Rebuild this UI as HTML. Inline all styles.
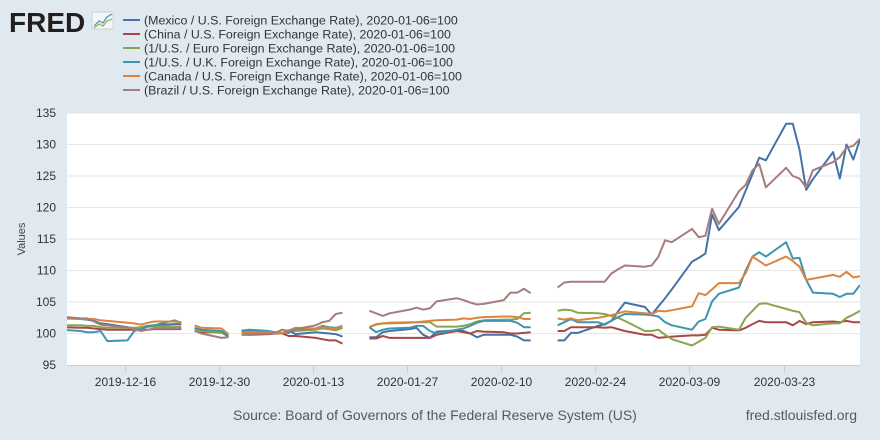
<!DOCTYPE html>
<html><head><meta charset="utf-8">
<style>
body{margin:0;background:#e1e9f0;}
svg{display:block;font-family:"Liberation Sans",Arial,sans-serif;}
</style></head>
<body>
<svg id="chart" width="880" height="440" viewBox="0 0 880 440">
<rect x="0" y="0" width="880" height="440" fill="#e1e9f0"/>
<g>
<text x="9" y="32" font-size="28" font-weight="bold" fill="#231f20" letter-spacing="0">FRED</text>
<rect x="92" y="12" width="21" height="17" fill="#f4f6f8" stroke="#c9d3dc"/>
<polyline points="94,26 99,21 103,23 107,17 112,14" fill="none" stroke="#4f8fbf" stroke-width="1.2"/>
<polyline points="94,28 99,24 103,26 107,21 112,19" fill="none" stroke="#8ab04a" stroke-width="1.2"/>
</g>
<g id="legend"></g>
<rect x="67" y="113" width="793" height="252" fill="#ffffff"/>
<g id="grid"></g>
<g id="yaxis"></g>
<g id="xaxis"></g>
<text x="25" y="239" font-size="11" fill="#444" transform="rotate(-90 25 239)" text-anchor="middle">Values</text>
<defs><clipPath id="clip"><rect x="67" y="113" width="793" height="252"/></clipPath></defs>
<g id="series" clip-path="url(#clip)"></g>
<text x="233" y="420" font-size="14" fill="#595959">Source: Board of Governors of the Federal Reserve System (US)</text>
<text x="857" y="420" font-size="14" fill="#595959" text-anchor="end">fred.stlouisfed.org</text>
</svg>
<script>
// business days; null marks holidays (gaps)
const dates = ["2019-12-06","2019-12-09","2019-12-10","2019-12-11","2019-12-12","2019-12-13","2019-12-16","2019-12-17","2019-12-18","2019-12-19","2019-12-20","2019-12-23","2019-12-24","2019-12-25","2019-12-26","2019-12-27","2019-12-30","2019-12-31","2020-01-01","2020-01-02","2020-01-03","2020-01-06","2020-01-07","2020-01-08","2020-01-09","2020-01-10","2020-01-13","2020-01-14","2020-01-15","2020-01-16","2020-01-17","2020-01-20","2020-01-21","2020-01-22","2020-01-23","2020-01-24","2020-01-27","2020-01-28","2020-01-29","2020-01-30","2020-01-31","2020-02-03","2020-02-04","2020-02-05","2020-02-06","2020-02-07","2020-02-10","2020-02-11","2020-02-12","2020-02-13","2020-02-14","2020-02-17","2020-02-18","2020-02-19","2020-02-20","2020-02-21","2020-02-24","2020-02-25","2020-02-26","2020-02-27","2020-02-28","2020-03-02","2020-03-03","2020-03-04","2020-03-05","2020-03-06","2020-03-09","2020-03-10","2020-03-11","2020-03-12","2020-03-13","2020-03-16","2020-03-17","2020-03-18","2020-03-19","2020-03-20","2020-03-23","2020-03-24","2020-03-25","2020-03-26","2020-03-27","2020-03-30","2020-03-31","2020-04-01","2020-04-02","2020-04-03"];
const mexico = [102.6,102.3,102.2,102.0,101.6,101.5,101.0,100.8,101.0,101.2,101.3,101.5,101.5,null,100.8,100.5,100.3,99.5,null,100.5,100.5,100.3,100.1,100.0,100.5,99.9,100.2,100.1,100.0,99.9,99.5,null,99.4,99.4,100.2,100.4,100.7,100.9,99.8,99.3,100.3,100.5,100.4,100.0,99.4,99.8,99.8,99.8,99.5,98.9,98.9,null,98.9,98.9,100.1,100.1,101.2,101.5,102.0,103.5,104.9,104.2,103.0,104.3,105.6,107.0,111.4,112.0,112.7,118.9,116.4,120.1,122.7,125.3,127.9,127.5,133.3,133.3,129.2,122.8,124.5,128.8,124.6,130.0,127.6,130.8];
const china = [101.0,100.9,100.9,100.8,100.7,100.6,100.6,100.6,100.6,100.6,100.7,100.7,100.7,null,100.5,100.2,100.2,99.8,null,99.8,99.8,99.9,100.0,100.0,99.6,99.6,99.3,99.1,98.9,98.9,98.4,null,99.2,99.2,99.6,99.3,99.3,99.3,99.3,99.3,99.8,100.4,100.2,100.0,100.4,100.3,100.2,100.0,100.0,100.1,100.2,null,100.4,100.4,101.0,101.0,101.0,100.9,101.0,100.7,100.4,99.8,99.8,99.3,99.4,99.5,99.7,99.7,99.8,100.9,100.6,100.5,100.9,101.5,102.0,101.8,101.8,101.3,102.0,101.5,101.8,101.9,101.8,102.0,101.8,101.8];
const euro = [101.3,101.3,101.2,101.2,101.0,100.9,100.9,100.9,101.0,101.1,101.1,101.1,101.1,null,100.6,100.4,100.1,99.6,null,100.2,100.3,100.2,100.1,100.0,100.4,100.4,100.6,100.8,100.7,100.5,100.9,null,101.0,101.4,101.6,101.6,101.7,101.8,101.8,101.8,101.1,101.1,101.2,101.5,101.9,102.1,102.2,102.2,102.3,103.2,103.3,null,103.6,103.8,103.7,103.3,103.2,103.1,102.8,102.5,102.0,100.4,100.4,100.6,99.8,99.1,98.1,98.7,99.3,101.0,101.1,100.6,102.5,103.6,104.7,104.8,103.9,103.6,103.4,101.7,101.3,101.6,101.6,102.5,103.0,103.6];
const uk = [100.6,100.4,100.2,100.2,100.4,98.8,98.9,100.4,100.7,101.1,101.3,102.1,101.7,null,100.9,100.6,100.4,99.4,null,100.4,100.6,100.4,100.2,100.1,100.1,100.7,100.8,101.2,101.0,100.9,101.2,null,101.0,100.2,100.6,100.8,100.9,101.2,101.2,100.4,100.0,100.6,100.8,101.2,101.7,102.0,102.0,102.0,101.7,101.0,101.0,null,101.3,101.8,102.3,101.8,101.8,101.4,102.0,102.6,103.1,103.0,102.9,102.7,101.8,101.3,100.6,101.9,102.3,105.1,106.3,107.3,110.0,112.2,112.9,112.2,114.5,111.9,112.0,108.5,106.5,106.3,105.8,106.3,106.3,107.7];
const canada = [102.4,102.3,102.3,102.3,102.1,102.0,101.7,101.6,101.4,101.7,101.9,101.9,101.8,null,101.3,100.9,100.8,99.9,null,100.0,100.1,100.2,100.1,100.1,100.5,100.9,100.8,101.0,100.9,100.8,101.1,null,101.0,101.5,101.6,101.7,101.8,101.8,101.9,102.0,102.1,102.2,102.4,102.3,102.5,102.6,102.7,102.7,102.6,102.3,102.3,null,102.4,102.2,102.4,102.1,102.5,102.7,102.9,103.2,103.5,103.2,103.1,103.6,103.5,103.7,104.3,106.4,106.1,107.0,108.0,108.0,109.6,112.2,111.5,110.8,112.2,111.5,110.6,108.5,108.7,109.3,109.0,109.8,108.9,109.1];
const brazil = [102.7,102.4,102.4,101.9,101.4,101.3,100.9,100.7,100.4,100.6,100.8,100.8,100.8,null,100.4,100.0,99.3,99.4,null,99.8,99.9,100.0,100.1,100.6,100.4,100.7,101.3,101.8,102.0,103.1,103.3,null,103.6,103.2,102.8,103.2,103.8,104.1,103.8,104.0,105.1,105.6,105.3,104.9,104.6,104.7,105.3,106.5,106.5,107.1,106.4,null,107.3,108.1,108.2,108.2,108.2,108.2,109.5,110.2,110.8,110.6,110.8,112.2,114.8,114.5,116.6,115.3,115.5,119.8,117.4,122.6,123.6,125.9,126.9,123.2,126.3,125.0,124.6,123.2,125.9,127.2,128.0,129.5,129.8,130.9];
const seriesNames = ["(Mexico / U.S. Foreign Exchange Rate), 2020-01-06=100","(China / U.S. Foreign Exchange Rate), 2020-01-06=100","(1/U.S. / Euro Foreign Exchange Rate), 2020-01-06=100","(1/U.S. / U.K. Foreign Exchange Rate), 2020-01-06=100","(Canada / U.S. Foreign Exchange Rate), 2020-01-06=100","(Brazil / U.S. Foreign Exchange Rate), 2020-01-06=100"];
const yTicks = [95,100,105,110,115,120,125,130,135];
const xTickLabels = ["2019-12-16","2019-12-30","2020-01-13","2020-01-27","2020-02-10","2020-02-24","2020-03-09","2020-03-23"];

const NS="http://www.w3.org/2000/svg";
const allSeries=[mexico,china,euro,uk,canada,brazil];
const colors=["#4572a7","#aa4643","#89a54e","#3d96ae","#db843d","#a47d7c"];
const keys=["mexico","china","euro","uk","canada","brazil"];
const base=Date.UTC(2019,11,16);
function dayOf(s){const p=s.split("-");return (Date.UTC(+p[0],+p[1]-1,+p[2])-base)/86400000;}
function xs(s){return 127.5+6.72*dayOf(s);}
function ys(v){return 365-(v-95)*6.3;}
function mk(tag,attrs,parent){const e=document.createElementNS(NS,tag);for(const k in attrs)e.setAttribute(k,attrs[k]);parent.appendChild(e);return e;}

const grid=document.getElementById("grid"),yax=document.getElementById("yaxis"),xax=document.getElementById("xaxis");
yTicks.forEach(t=>{
  const y=ys(t);
  if(t>95){const l=mk("line",{x1:67,x2:860,y1:y,y2:y,stroke:"#e6e6e6","stroke-width":1},grid);
  
  }
  const tx=mk("text",{x:56,y:y+4,"font-size":12,fill:"#333","text-anchor":"end"},yax);
  tx.textContent=t;
  
  
});
const axl=mk("line",{x1:67,x2:860,y1:365.5,y2:365.5,stroke:"#c0d0e0","stroke-width":1},xax);


xTickLabels.forEach(s=>{
  const x=Math.round(xs(s)-2.5)+0.5;
  const tk=mk("line",{x1:x,x2:x,y1:365,y2:373,stroke:"#c0d0e0","stroke-width":1},xax);
  
  
  const tx=mk("text",{x:x,y:386,"font-size":12,fill:"#333","text-anchor":"middle"},xax);
  tx.textContent=s;
  
  
});

const sg=document.getElementById("series");
allSeries.forEach((vals,i)=>{
  let d="",pen=false;
  vals.forEach((v,j)=>{
    if(v===null){pen=false;return;}
    d+=(pen?"L":"M")+xs(dates[j]).toFixed(1)+" "+ys(v).toFixed(1);pen=true;
  });
  const p=mk("path",{d:d,fill:"none",stroke:colors[i],"stroke-width":2,"stroke-linejoin":"round"},sg);
  
  
});

const lg=document.getElementById("legend");
seriesNames.forEach((n,i)=>{
  const y=20+i*14;
  const g=mk("g",{},lg);
  
  
  mk("line",{x1:123,x2:140,y1:y,y2:y,stroke:colors[i],"stroke-width":2},g);
  const t=mk("text",{x:144,y:y+4.5,"font-size":12.4,fill:"#333"},g);
  t.textContent=n;
});
</script>
</body></html>
